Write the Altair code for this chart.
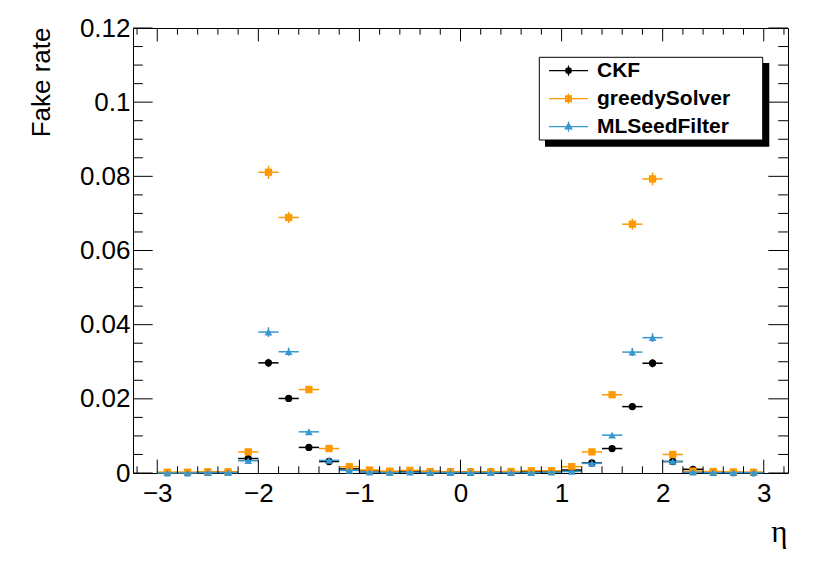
import altair as alt
import pandas as pd
import numpy as np

# ---------------- data ----------------
eta = [-2.9, -2.7, -2.5, -2.3, -2.1, -1.9, -1.7, -1.5, -1.3, -1.1,
       -0.9, -0.7, -0.5, -0.3, -0.1, 0.1, 0.3, 0.5, 0.7, 0.9,
       1.1, 1.3, 1.5, 1.7, 1.9, 2.1, 2.3, 2.5, 2.7, 2.9]

series_names = ["CKF", "greedySolver", "MLSeedFilter"]
colors = ["#000000", "#ff9900", "#3797d0"]

ckf = [0.0001, 0.0001, 0.0002, 0.0002, 0.0039, 0.0297, 0.0201, 0.0069, 0.0031, 0.0011,
       0.0006, 0.0003, 0.0004, 0.0004, 0.0003, 0.0003, 0.0003, 0.0003, 0.0004, 0.0005,
       0.0008, 0.0027, 0.0066, 0.0179, 0.0296, 0.0031, 0.0010, 0.0003, 0.0001, 0.0001]
ckf_err = [0.0001, 0.0001, 0.0001, 0.0001, 0.0004, 0.0011, 0.0009, 0.0005, 0.0004, 0.0002,
           0.0001, 0.0001, 0.0001, 0.0001, 0.0001, 0.0001, 0.0001, 0.0001, 0.0001, 0.0001,
           0.0002, 0.0003, 0.0005, 0.0009, 0.0011, 0.0004, 0.0002, 0.0001, 0.0001, 0.0001]

greedy = [0.0002, 0.0002, 0.0003, 0.0003, 0.0057, 0.0811, 0.0689, 0.0225, 0.0066, 0.0017,
          0.0008, 0.0005, 0.0007, 0.0004, 0.0003, 0.0003, 0.0003, 0.0004, 0.0006, 0.0006,
          0.0017, 0.0057, 0.0211, 0.0671, 0.0793, 0.0050, 0.0005, 0.0004, 0.0003, 0.0002]
greedy_err = [0.0001, 0.0001, 0.0001, 0.0001, 0.0005, 0.0018, 0.0015, 0.0010, 0.0005, 0.0003,
              0.0002, 0.0001, 0.0001, 0.0001, 0.0001, 0.0001, 0.0001, 0.0001, 0.0001, 0.0002,
              0.0003, 0.0005, 0.0009, 0.0015, 0.0017, 0.0005, 0.0002, 0.0001, 0.0001, 0.0001]

mlseed = [0.0000, 0.0000, 0.0001, 0.0001, 0.0033, 0.0380, 0.0327, 0.0111, 0.0034, 0.0007,
          0.0002, 0.0001, 0.0002, 0.0001, 0.0001, 0.0001, 0.0001, 0.0001, 0.0001, 0.0002,
          0.0004, 0.0026, 0.0102, 0.0326, 0.0365, 0.0031, 0.0002, 0.0001, 0.0001, 0.0001]
mlseed_err = [0.0001, 0.0001, 0.0001, 0.0001, 0.0004, 0.0013, 0.0011, 0.0007, 0.0004, 0.0002,
              0.0001, 0.0001, 0.0001, 0.0001, 0.0001, 0.0001, 0.0001, 0.0001, 0.0001, 0.0001,
              0.0002, 0.0003, 0.0006, 0.0011, 0.0012, 0.0004, 0.0001, 0.0001, 0.0001, 0.0001]

bin_half_width = 0.1

x_major = [-3, -2, -1, 0, 1, 2, 3]
x_minor = [round(v, 1) for v in np.arange(-3.2, 3.21, 0.2) if abs(v - round(v)) > 1e-6]
y_major = [0, 0.02, 0.04, 0.06, 0.08, 0.1, 0.12]
y_minor = [round(v, 3) for v in np.arange(0.005, 0.1201, 0.005) if abs(v / 0.02 - round(v / 0.02)) > 1e-6]

# ---------------- style ----------------
W, H = 655, 445
FONT = "Liberation Sans"
shapes = ["circle", "square", "triangle-up"]
sizes = [53, 53, 60]
legend_paths = [
    "M-1,0H1M0,-0.26V0.26M-0.14,0A0.14,0.14 0 1,0 0.14,0A0.14,0.14 0 1,0 -0.14,0Z",
    "M-1,0H1M0,-0.26V0.26M-0.15,-0.15H0.15V0.15H-0.15Z",
    "M-1,0H1M0,-0.26V0.26M0,-0.18L0.17,0.12L-0.17,0.12Z",
]

xscale = alt.Scale(domain=[-3.24, 3.24], nice=False, zero=False)
yscale = alt.Scale(domain=[0, 0.12], nice=False, zero=False)

x_axis = alt.Axis(values=x_major, format="d", title="η", ticks=False, tickSize=0, domain=False,
                  grid=False, labelFont=FONT, labelFontSize=26, labelColor="black",
                  labelPadding=7, titleFont="Liberation Serif", titleFontSize=31,
                  titleFontWeight="normal", titleColor="black", titleX=W - 1, titleY=68,
                  titleAlign="right", titleBaseline="alphabetic")
y_axis = alt.Axis(values=y_major, format="~f", title="Fake rate", ticks=False, tickSize=0,
                  domain=False, grid=False, labelFont=FONT, labelFontSize=26,
                  labelColor="black", labelPadding=3, titleFont=FONT, titleFontSize=26,
                  titleFontWeight="normal", titleColor="black", titleAngle=270,
                  titleX=-84, titleY=-1, titleAlign="right", titleBaseline="alphabetic")

# ---------------- build ----------------
rows = []
for name, vals, errs in zip(series_names, [ckf, greedy, mlseed], [ckf_err, greedy_err, mlseed_err]):
    for e, v, s in zip(eta, vals, errs):
        rows.append(dict(series=name, eta=e, val=v, lo=max(v - s, 0.0), hi=v + s,
                         xlo=e - bin_half_width, xhi=e + bin_half_width))
df = pd.DataFrame(rows)


def X(field):
    return alt.X(field, scale=xscale, axis=x_axis)


def Y(field):
    return alt.Y(field, scale=yscale, axis=y_axis)


layers = []

# legend box shadow and frame (decoration)
one = alt.Data(values=[{}])
layers.append(alt.Chart(one).mark_rect(color="black").encode(
    x=alt.value(412), x2=alt.value(636.3), y=alt.value(35), y2=alt.value(118.7)))
layers.append(alt.Chart(one).mark_rect(fill="white", stroke="black", strokeWidth=1).encode(
    x=alt.value(406.3), x2=alt.value(629.7), y=alt.value(29.3), y2=alt.value(112)))

for i, (name, c) in enumerate(zip(series_names, colors)):
    d = df[df.series == name]
    layers.append(alt.Chart(d).mark_rule(color=c, strokeWidth=1.5).encode(
        x=X("xlo:Q"), x2="xhi:Q", y=Y("val:Q")))
    layers.append(alt.Chart(d).mark_rule(color=c, strokeWidth=1.5).encode(
        x=X("eta:Q"), y=Y("lo:Q"), y2="hi:Q"))
    layers.append(alt.Chart(d).mark_point(shape=shapes[i], filled=True, size=sizes[i],
                                          color=c, opacity=1).encode(
        x=X("eta:Q"), y=Y("val:Q")))

# legend carrier (no marks drawn, only the legend)
leg = alt.Legend(orient="none", legendX=415, legendY=29, title=None, padding=0, rowPadding=0,
                 clipHeight=27.3, labelOffset=8, symbolSize=1521, symbolStrokeWidth=1.2,
                 labelFont=FONT, labelFontSize=21, labelFontWeight="bold", labelColor="black",
                 labelBaseline="middle", labelLimit=0)
layers.append(alt.Chart(df).mark_point(filled=True, opacity=1).encode(
    x=X("eta:Q"), y=Y("val:Q"),
    fill=alt.Fill("series:N", scale=alt.Scale(domain=series_names, range=colors), legend=leg),
    stroke=alt.Stroke("series:N", scale=alt.Scale(domain=series_names, range=colors), legend=leg),
    shape=alt.Shape("series:N", scale=alt.Scale(domain=series_names, range=legend_paths), legend=leg),
).transform_filter("false"))


# inward ticks (ROOT style) on all four sides
def xticks(vals, length):
    d = pd.DataFrame({"t": vals})
    b = alt.Chart(d).mark_rule(color="black", strokeWidth=1).encode(
        x=X("t:Q"), y=alt.value(H), y2=alt.value(H - length))
    t = alt.Chart(d).mark_rule(color="black", strokeWidth=1).encode(
        x=X("t:Q"), y=alt.value(0), y2=alt.value(length))
    return [b, t]


def yticks(vals, length):
    d = pd.DataFrame({"t": vals})
    l = alt.Chart(d).mark_rule(color="black", strokeWidth=1).encode(
        y=Y("t:Q"), x=alt.value(0), x2=alt.value(length))
    r = alt.Chart(d).mark_rule(color="black", strokeWidth=1).encode(
        y=Y("t:Q"), x=alt.value(W), x2=alt.value(W - length))
    return [l, r]


layers += xticks(x_major, 13.4) + xticks(x_minor, 6.7)
layers += yticks(y_major, 19.7) + yticks(y_minor, 9.8)

chart = alt.layer(*layers).properties(
    width=W, height=H,
    autosize=alt.AutoSizeParams(type="none"),
    padding={"left": 125, "top": 20, "right": 34, "bottom": 84},
    background="white",
).configure_view(stroke="black", strokeWidth=1)

chart.save("out.html", embed_options={"renderer": "svg", "actions": False})
